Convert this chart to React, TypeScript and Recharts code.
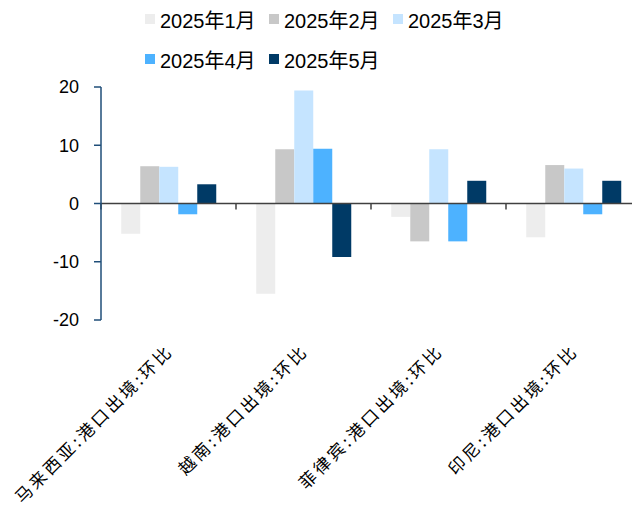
import React from "react";
import { BarChart, Bar, XAxis, YAxis, ReferenceLine } from "recharts";

const categories = ["马来西亚:港口出境:环比", "越南:港口出境:环比", "菲律宾:港口出境:环比", "印尼:港口出境:环比"];
const seriesNames = ["2025年1月", "2025年2月", "2025年3月", "2025年4月", "2025年5月"];
const jan = [-5.2, -15.5, -2.3, -5.8];
const feb = [6.4, 9.3, -6.5, 6.6];
const mar = [6.3, 19.4, 9.3, 6.0];
const apr = [-1.85, 9.4, -6.5, -1.85];
const may = [3.3, -9.2, 3.9, 3.9];
const yTicks = [-20, -10, 0, 10, 20];
const colors = ["#EDEDED", "#C8C8C8", "#C5E4FF", "#4DB2FF", "#003A66"];

const seriesValues = [jan, feb, mar, apr, may];
const keys = ["s1", "s2", "s3", "s4", "s5"];
const data = categories.map((c, i) => {
  const row: any = { name: c };
  keys.forEach((k, j) => (row[k] = seriesValues[j][i]));
  return row;
});

const XTick = (props: any) => {
  const { x, y, payload } = props;
  const ax = x + 6;
  const ay = y + 24;
  return (
    <text
      x={ax}
      y={ay}
      transform={`rotate(-45 ${ax} ${ay})`}
      textAnchor="end"
      fontSize={17}
      letterSpacing={3}
      fontFamily="'Noto Sans CJK SC', sans-serif"
      fill="#000"
    >
      {payload.value}
    </text>
  );
};

const ZeroLine = (props: any) => {
  const { x1, y1, x2, y2 } = props;
  const n = categories.length;
  const ticks = [];
  for (let i = 0; i <= n; i++) {
    const tx = x1 + ((x2 - x1) * i) / n;
    ticks.push(<line key={i} x1={tx} y1={y1} x2={tx} y2={y1 + 6} stroke="#404040" strokeWidth={1.5} />);
  }
  return (
    <g>
      <line x1={x1} y1={y1} x2={x2} y2={y2} stroke="#404040" strokeWidth={1.5} />
      {ticks}
    </g>
  );
};

export default function App() {
  return (
    <div style={{ position: "relative", width: 640, height: 500 }}>
      <div
        style={{
          position: "absolute",
          left: 0,
          top: 0,
          width: 640,
          fontFamily: "'Liberation Sans', 'Noto Sans CJK SC', sans-serif",
          fontSize: 20,
          color: "#000",
        }}
      >
        {[0, 1].map((r) => (
          <div key={r} style={{ position: "absolute", left: 137, top: r === 0 ? -1 : 39, display: "flex", height: 24 }}>
            {seriesNames.slice(r * 3, r * 3 + 3).map((s, k) => {
              const idx = r * 3 + k;
              return (
                <div key={s} style={{ width: 124, display: "flex", alignItems: "center" }}>
                  <span style={{ width: 10, height: 10, background: colors[idx], marginRight: 5, display: "inline-block" }} />
                  <span style={{ whiteSpace: "nowrap" }}>{s}</span>
                </div>
              );
            })}
          </div>
        ))}
      </div>
      <BarChart
        width={640}
        height={500}
        data={data}
        margin={{ top: 79, right: 7, bottom: 0, left: 0 }}
        barCategoryGap="15%"
        barGap={0}
      >
        <XAxis dataKey="name" height={188} axisLine={false} tickLine={false} tick={<XTick />} interval={0} />
        <YAxis
          domain={[-20, 20]}
          ticks={yTicks}
          width={93}
          axisLine={{ stroke: "#1F4E79", strokeWidth: 1.5 }}
          tickLine={{ stroke: "#1F4E79", strokeWidth: 1.5 }}
          tickSize={7}
          tickMargin={15}
          tick={{ fill: "#000", fontSize: 18, fontFamily: "'Liberation Sans', sans-serif" }}
        />
        {keys.map((k, j) => (
          <Bar key={k} dataKey={k} name={seriesNames[j]} fill={colors[j]} isAnimationActive={false} />
        ))}
        <ReferenceLine y={0} shape={<ZeroLine />} />
      </BarChart>
    </div>
  );
}
